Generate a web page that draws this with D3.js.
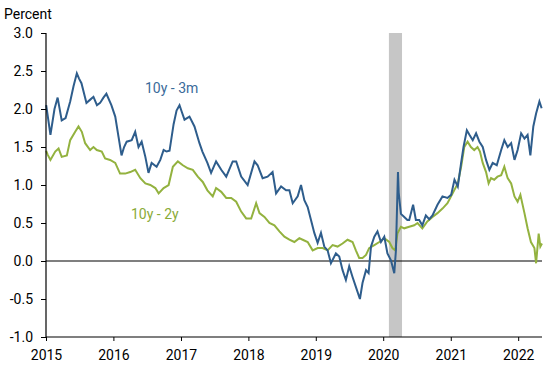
<!DOCTYPE html>
<html>
<head>
<meta charset="utf-8">
<script src="https://cdn.jsdelivr.net/npm/d3@7"></script>
<style>
  body { margin: 0; background: #fff; }
  text { font-family: Roboto, "Open Sans", sans-serif; }
</style>
</head>
<body>
<div id="chart"></div>
<script>
// 10y - 3m spread
var dates3m = ["2015-01-02","2015-01-25","2015-02-16","2015-03-05","2015-03-27","2015-04-17","2015-05-12","2015-05-30","2015-06-17","2015-06-29",
  "2015-07-12","2015-08-08","2015-08-27","2015-09-15","2015-10-04","2015-10-21","2015-11-08","2015-11-24","2015-12-21","2016-01-11",
  "2016-01-29","2016-02-14","2016-02-28","2016-03-13","2016-04-09","2016-04-28","2016-05-16","2016-06-02","2016-06-22","2016-07-09",
  "2016-07-26","2016-08-22","2016-09-11","2016-09-29","2016-10-15","2016-10-31","2016-11-22","2016-12-08","2016-12-24","2017-01-07",
  "2017-01-20","2017-02-16","2017-03-15","2017-04-11","2017-04-27","2017-05-24","2017-06-13","2017-07-10","2017-08-07","2017-09-03",
  "2017-10-08","2017-10-27","2017-11-23","2017-12-28","2018-02-03","2018-02-20","2018-03-19","2018-04-15","2018-05-12","2018-05-31",
  "2018-06-27","2018-07-24","2018-08-11","2018-08-29","2018-09-25","2018-10-13","2018-10-31","2018-11-18","2018-12-06","2018-12-24",
  "2019-01-11","2019-01-29","2019-02-16","2019-03-06","2019-03-24","2019-04-20","2019-05-08","2019-05-26","2019-06-13","2019-07-01",
  "2019-07-19","2019-08-06","2019-08-28","2019-09-11","2019-09-30","2019-10-14","2019-10-27","2019-11-14","2019-12-01","2019-12-20",
  "2020-01-07","2020-01-24","2020-02-12","2020-03-01","2020-03-10","2020-03-21","2020-03-25","2020-04-06","2020-04-24","2020-05-11",
  "2020-05-21","2020-06-11","2020-06-26","2020-07-14","2020-07-31","2020-08-19","2020-09-06","2020-09-24","2020-10-21","2020-11-17",
  "2020-12-14","2021-01-03","2021-01-21","2021-02-08","2021-02-26","2021-03-11","2021-03-29","2021-04-12","2021-04-30","2021-05-18",
  "2021-06-05","2021-06-23","2021-07-11","2021-07-29","2021-08-16","2021-09-07","2021-10-01","2021-10-18","2021-11-05","2021-11-24",
  "2021-12-12","2021-12-29","2022-01-17","2022-02-04","2022-02-21","2022-03-08","2022-03-24","2022-04-08","2022-04-26","2022-05-08"];
var values3m = [2.05,1.66,2.0,2.15,1.85,1.88,2.1,2.3,2.47,2.4,
  2.34,2.08,2.12,2.16,2.05,2.08,2.15,2.2,2.05,1.9,
  1.63,1.39,1.5,1.57,1.59,1.7,1.5,1.57,1.37,1.16,
  1.29,1.24,1.33,1.46,1.44,1.45,1.8,1.98,2.05,1.95,
  1.86,1.9,1.77,1.55,1.44,1.29,1.16,1.31,1.2,1.11,
  1.31,1.31,1.11,1.0,1.31,1.26,1.09,1.11,1.17,0.89,
  0.98,0.93,0.93,0.76,0.85,1.0,0.8,0.71,0.54,0.37,
  0.24,0.37,0.19,0.14,-0.03,0.1,0.06,-0.12,-0.25,-0.07,
  -0.21,-0.34,-0.5,-0.29,-0.12,-0.16,0.19,0.32,0.39,0.25,
  0.32,0.1,0.01,-0.16,0.14,1.17,0.9,0.62,0.58,0.54,
  0.54,0.74,0.54,0.54,0.47,0.6,0.55,0.6,0.74,0.85,
  0.83,0.87,1.07,0.98,1.29,1.5,1.72,1.66,1.59,1.68,
  1.57,1.5,1.33,1.2,1.29,1.26,1.46,1.59,1.5,1.55,
  1.33,1.46,1.68,1.61,1.66,1.39,1.77,1.94,2.1,2.01];

// 10y - 2y spread
var dates2y = ["2015-01-02","2015-01-10","2015-01-25","2015-02-20","2015-03-10","2015-03-27","2015-04-24","2015-05-12","2015-06-08","2015-06-26",
  "2015-07-14","2015-08-01","2015-08-28","2015-09-15","2015-10-03","2015-10-30","2015-11-17","2015-12-14","2016-01-11","2016-02-06",
  "2016-03-05","2016-04-01","2016-04-28","2016-05-26","2016-06-22","2016-07-19","2016-08-15","2016-09-02","2016-09-29","2016-10-26",
  "2016-11-18","2016-12-15","2017-01-11","2017-02-07","2017-03-06","2017-04-02","2017-04-29","2017-05-24","2017-06-22","2017-07-10",
  "2017-08-07","2017-09-03","2017-09-30","2017-10-27","2017-11-23","2017-12-20","2018-01-16","2018-02-12","2018-03-02","2018-03-29",
  "2018-04-25","2018-05-22","2018-06-18","2018-07-15","2018-08-11","2018-09-07","2018-10-04","2018-10-22","2018-11-18","2018-12-15",
  "2019-01-11","2019-02-07","2019-03-06","2019-04-02","2019-04-29","2019-05-26","2019-06-22","2019-07-19","2019-08-06","2019-08-24",
  "2019-09-11","2019-09-30","2019-10-17","2019-11-14","2019-12-11","2020-01-07","2020-02-03","2020-02-20","2020-03-06","2020-03-18",
  "2020-04-06","2020-04-24","2020-05-21","2020-06-17","2020-07-05","2020-07-31","2020-08-27","2020-09-24","2020-10-21","2020-11-17",
  "2020-12-14","2021-01-11","2021-02-08","2021-02-26","2021-03-15","2021-04-02","2021-04-20","2021-05-08","2021-05-26","2021-06-08",
  "2021-06-23","2021-07-11","2021-07-25","2021-08-07","2021-08-24","2021-09-11","2021-10-01","2021-10-18","2021-11-05","2021-11-24",
  "2021-12-12","2021-12-29","2022-01-13","2022-02-04","2022-02-21","2022-03-11","2022-03-30","2022-04-08","2022-04-22","2022-05-01",
  "2022-05-10"];
var values2y = [1.45,1.4,1.33,1.44,1.48,1.37,1.39,1.59,1.7,1.77,
  1.7,1.55,1.46,1.5,1.46,1.44,1.35,1.33,1.29,1.15,
  1.15,1.17,1.2,1.09,1.02,1.0,0.96,0.89,0.96,1.0,
  1.24,1.31,1.26,1.22,1.2,1.11,1.04,0.93,0.85,0.96,
  0.91,0.83,0.83,0.78,0.65,0.56,0.56,0.76,0.63,0.58,
  0.5,0.47,0.39,0.32,0.28,0.25,0.3,0.28,0.25,0.14,
  0.17,0.17,0.14,0.21,0.19,0.23,0.28,0.25,0.14,0.04,
  0.04,0.08,0.17,0.21,0.25,0.3,0.25,0.17,0.14,0.36,
  0.45,0.43,0.45,0.47,0.5,0.43,0.52,0.58,0.63,0.69,
  0.76,0.89,1.02,1.24,1.5,1.57,1.5,1.46,1.5,1.44,
  1.29,1.17,1.02,1.09,1.07,1.11,1.13,1.24,1.09,1.02,
  0.85,0.78,0.87,0.63,0.43,0.25,0.17,-0.03,0.36,0.19,
  0.23];

// recession shading and axes
var recession = ["2020-02-01", "2020-04-12"];
var yTicks = [-1.0, -0.5, 0.0, 0.5, 1.0, 1.5, 2.0, 2.5, 3.0];
var xTickYears = [2015, 2016, 2017, 2018, 2019, 2020, 2021, 2022];

var margin = {top: 33, right: 8, bottom: 28, left: 46};
var width = 550 - margin.left - margin.right;
var height = 365 - margin.top - margin.bottom;

var parse = d3.timeParse("%Y-%m-%d");
var series3m = dates3m.map(function(d, i) { return {date: parse(d), value: values3m[i]}; });
var series2y = dates2y.map(function(d, i) { return {date: parse(d), value: values2y[i]}; });

var svg = d3.select("#chart").append("svg")
    .attr("width", 550)
    .attr("height", 365);

var g = svg.append("g")
    .attr("transform", "translate(" + margin.left + "," + margin.top + ")");

var x = d3.scaleTime()
    .domain([parse("2015-01-01"), parse("2022-05-10")])
    .range([0, width]);
var y = d3.scaleLinear()
    .domain([-1, 3])
    .range([height, 0]);

// recession bar
g.append("rect")
    .attr("x", x(parse(recession[0])))
    .attr("y", 0)
    .attr("width", x(parse(recession[1])) - x(parse(recession[0])))
    .attr("height", height)
    .attr("fill", "#c6c6c6");

// zero line
g.append("line")
    .attr("x1", 0).attr("x2", width)
    .attr("y1", y(0)).attr("y2", y(0))
    .attr("stroke", "#000").attr("stroke-width", 1.2);

var line = d3.line()
    .x(function(d) { return x(d.date); })
    .y(function(d) { return y(d.value); });

g.append("path")
    .datum(series2y)
    .attr("fill", "none")
    .attr("stroke", "#93b23f")
    .attr("stroke-width", 2)
    .attr("d", line);

g.append("path")
    .datum(series3m)
    .attr("fill", "none")
    .attr("stroke", "#2e5d8c")
    .attr("stroke-width", 2)
    .attr("d", line);

// axes
var yAxis = d3.axisLeft(y)
    .tickValues(yTicks)
    .tickSize(5)
    .tickPadding(8)
    .tickFormat(function(d) { return d.toFixed(1); });
var gy = g.append("g").call(yAxis);

var xAxis = d3.axisBottom(x)
    .tickValues(xTickYears.map(function(yr) { return new Date(yr, 0, 1); }))
    .tickSize(4)
    .tickPadding(9)
    .tickFormat(d3.timeFormat("%Y"));
var gx = g.append("g")
    .attr("transform", "translate(0," + height + ")")
    .call(xAxis);

[gx, gy].forEach(function(a) {
    a.select(".domain").attr("stroke", "#000").attr("stroke-width", 1.2);
    a.selectAll(".tick line").attr("stroke", "#000");
    a.selectAll(".tick text").attr("font-size", 14).attr("fill", "#000")
        .style("font-family", "Roboto, sans-serif");
});
gx.select(".domain").attr("d", "M0,0H" + width);
gy.select(".domain").attr("d", "M0," + height + "V0");

// labels
svg.append("text")
    .attr("x", 4).attr("y", 19)
    .attr("font-size", 14)
    .text("Percent");

g.append("text")
    .attr("x", 145 - margin.left).attr("y", 93 - margin.top)
    .attr("font-size", 14)
    .attr("fill", "#3a6b9a")
    .text("10y - 3m");

g.append("text")
    .attr("x", 131 - margin.left).attr("y", 219 - margin.top)
    .attr("font-size", 14)
    .attr("fill", "#8aab38")
    .text("10y - 2y");
</script>
</body>
</html>
